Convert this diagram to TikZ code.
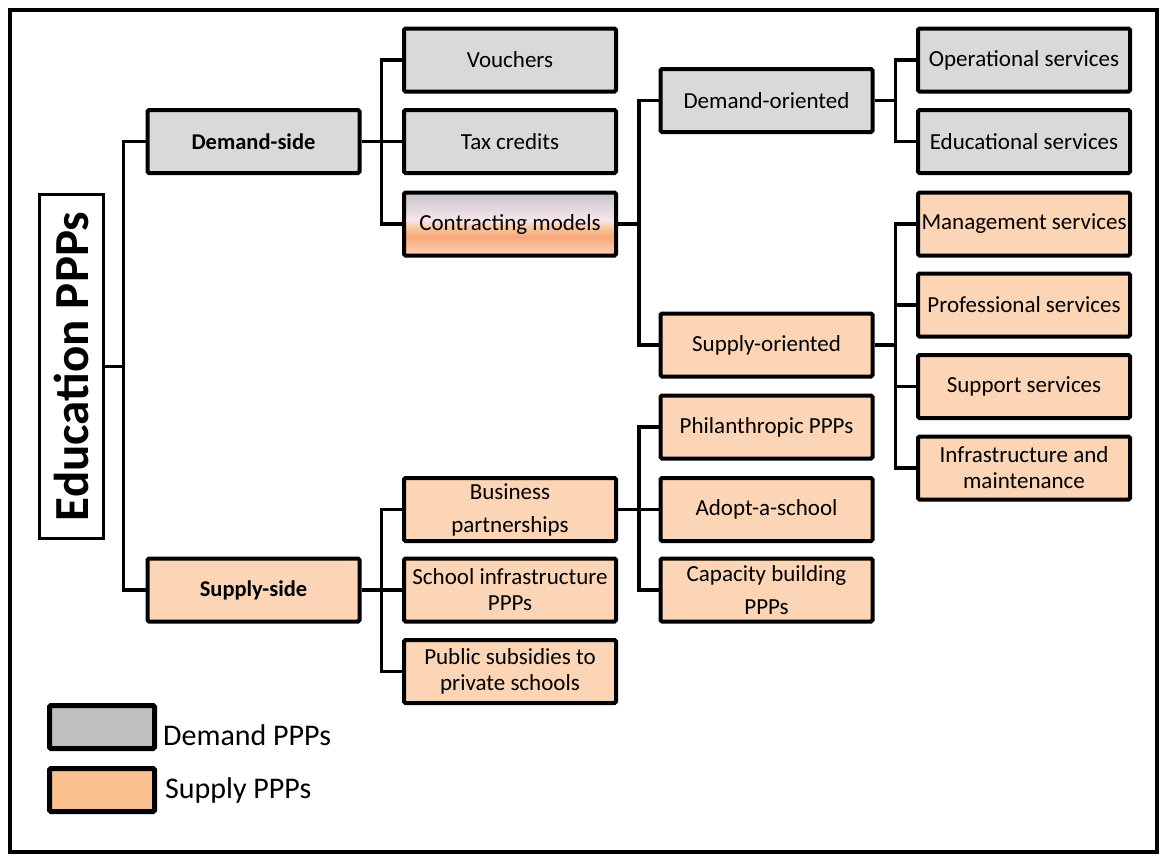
\documentclass[tikz,border=0pt]{standalone}
\usepackage{fontspec}
\setmainfont{Carlito}

\definecolor{demgray}{HTML}{D9D9D9}
\definecolor{suporange}{HTML}{FBD5B5}
\definecolor{leggray}{HTML}{BFBFBF}
\definecolor{legorange}{HTML}{FAC090}

\definecolor{shA}{HTML}{FBD2B2}
\definecolor{shB}{HTML}{F7A77A}
\definecolor{shC}{HTML}{FBCAA2}
\definecolor{shD}{HTML}{F8E6EE}
\definecolor{shE}{HTML}{C6C4CA}
\pgfdeclareverticalshading{contractshade}{100bp}{color(0bp)=(shA); color(25bp)=(shA); color(40bp)=(shB); color(48bp)=(shC); color(53bp)=(shD); color(75bp)=(shE); color(100bp)=(shE)}

\begin{document}
\begin{tikzpicture}[x=1pt, y=-1pt,
  box/.style={draw, line width=4pt, rounded corners=1.5pt, minimum width=212pt,
    minimum height=63pt, inner sep=0pt, align=center, font=\fontsize{23}{26}\selectfont},
  dembox/.style={box, fill=demgray},
  supbox/.style={box, fill=suporange},
  bold/.style={font=\fontsize{22.5}{26}\selectfont\bfseries},
  wide/.style={font=\fontsize{23}{33}\selectfont},
  link/.style={line width=3.5pt},
  legbox/.style={draw, line width=5pt, rounded corners=1.5pt, minimum width=105pt,
    minimum height=43pt, inner sep=0pt},
  legtxt/.style={inner sep=0pt, font=\fontsize{30}{34}\selectfont}]

\newcommand\ColA{253.5}
\newcommand\ColB{510}
\newcommand\ColC{766.5}
\newcommand\ColD{1024}

\useasboundingbox (0,0) rectangle (1165,855);
\draw[line width=4pt] (10,9.5) rectangle (1157,852);

%% root
\node[draw, line width=3pt, rotate=90, minimum width=344pt, minimum height=64pt,
  inner sep=0pt, font=\fontsize{49}{50}\selectfont\bfseries] (edu) at (71.5,366.5) {Education PPPs};

%% first level
\node[dembox, bold] (dside) at (\ColA,141.5) {Demand-side};
\node[supbox, bold] (sside) at (\ColA,590) {Supply-side};

%% second level
\node[dembox] (vou) at (\ColB,60) {Vouchers};
\node[dembox] (tax) at (\ColB,141.5) {Tax credits};
\node[box, shading=contractshade] (con) at (\ColB,224) {Contracting models};
\node[supbox, wide] (bus) at (\ColB,509.5) {Business\\partnerships};
\node[supbox] (sch) at (\ColB,590) {School infrastructure\\PPPs};
\node[supbox] (pub) at (\ColB,671.5) {Public subsidies to\\private schools};

%% third level
\node[dembox] (dor) at (\ColC,100.5) {Demand-oriented};
\node[supbox] (sor) at (\ColC,345) {Supply-oriented};
\node[supbox] (phi) at (\ColC,427) {Philanthropic PPPs};
\node[supbox] (ado) at (\ColC,509.5) {Adopt-a-school};
\node[supbox, wide] (cap) at (\ColC,590) {Capacity building\\PPPs};

%% fourth level
\node[dembox] (ope) at (\ColD,60) {Operational services};
\node[dembox] (eds) at (\ColD,141.5) {Educational services};
\node[supbox] (man) at (\ColD,224) {Management services};
\node[supbox] (pro) at (\ColD,305) {Professional services};
\node[supbox] (spt) at (\ColD,386.5) {Support services};
\node[supbox] (inf) at (\ColD,468) {Infrastructure and\\maintenance};

%% connectors
\draw[link] (edu.south) -- ++(18.5,0) coordinate (b0);
\foreach \n in {dside,sside} \draw[link] (b0) |- (\n.west);

\draw[link] (dside.east) -- ++(20,0) coordinate (b1);
\foreach \n in {vou,tax,con} \draw[link] (b1) |- (\n.west);

\draw[link] (sside.east) -- ++(20,0) coordinate (b2);
\foreach \n in {bus,sch,pub} \draw[link] (b2) |- (\n.west);

\draw[link] (con.east) -- ++(21,0) coordinate (b3);
\foreach \n in {dor,sor} \draw[link] (b3) |- (\n.west);

\draw[link] (bus.east) -- ++(21,0) coordinate (b4);
\foreach \n in {phi,ado,cap} \draw[link] (b4) |- (\n.west);

\draw[link] (dor.east) -- ++(21,0) coordinate (b5);
\foreach \n in {ope,eds} \draw[link] (b5) |- (\n.west);

\draw[link] (sor.east) -- ++(21,0) coordinate (b6);
\foreach \n in {man,pro,spt,inf} \draw[link] (b6) |- (\n.west);

%% legend
\node[legbox, fill=leggray] (lgd) at (102,727) {};
\node[legbox, fill=legorange] (lgs) at (102,790) {};
\node[legtxt, anchor=base west] (lgdt) at (163,745) {Demand PPPs};
\node[legtxt, anchor=base west] (lgst) at (165,798) {Supply PPPs};

\end{tikzpicture}
\end{document}
